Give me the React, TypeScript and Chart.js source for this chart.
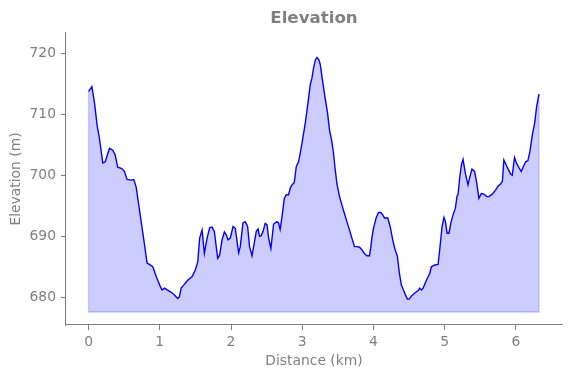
import React, { useEffect, useRef } from "react";
import { Chart, registerables } from "chart.js";

Chart.register(...registerables);

const distanceKm = [
  0.0, 0.047, 0.084, 0.122, 0.15, 0.2, 0.234, 0.294, 0.34, 0.374, 0.41, 0.467, 0.505, 0.54, 0.6, 0.635,
  0.668, 0.715, 0.776, 0.822, 0.855, 0.902, 0.95, 1.01, 1.033, 1.065, 1.15, 1.196, 1.252, 1.276, 1.3,
  1.336, 1.392, 1.454, 1.5, 1.533, 1.56, 1.594, 1.626, 1.664, 1.7, 1.734, 1.766, 1.813, 1.84, 1.874,
  1.907, 1.935, 1.958, 1.99, 2.028, 2.06, 2.107, 2.13, 2.168, 2.2, 2.233, 2.26, 2.295, 2.327, 2.355,
  2.38, 2.4, 2.425, 2.45, 2.48, 2.505, 2.528, 2.56, 2.598, 2.645, 2.668, 2.69, 2.716, 2.748, 2.776,
  2.808, 2.832, 2.856, 2.888, 2.916, 2.948, 2.972, 3.004, 3.042, 3.08, 3.112, 3.136, 3.158, 3.182,
  3.206, 3.234, 3.253, 3.29, 3.322, 3.355, 3.383, 3.416, 3.439, 3.463, 3.487, 3.524, 3.557, 3.59,
  3.627, 3.664, 3.697, 3.733, 3.766, 3.804, 3.837, 3.87, 3.907, 3.944, 3.963, 3.977, 4.0, 4.037,
  4.07, 4.103, 4.13, 4.155, 4.2, 4.234, 4.27, 4.304, 4.336, 4.364, 4.392, 4.416, 4.449, 4.477, 4.5,
  4.533, 4.58, 4.627, 4.65, 4.673, 4.697, 4.743, 4.79, 4.813, 4.86, 4.907, 4.93, 4.963, 4.99, 5.01,
  5.033, 5.06, 5.085, 5.117, 5.15, 5.173, 5.187, 5.21, 5.234, 5.257, 5.29, 5.327, 5.355, 5.383, 5.42,
  5.45, 5.48, 5.514, 5.55, 5.59, 5.62, 5.668, 5.716, 5.748, 5.786, 5.81, 5.83, 5.87, 5.9, 5.925,
  5.948, 5.98, 6.007, 6.04, 6.075, 6.1, 6.136, 6.168, 6.196, 6.23, 6.262, 6.29, 6.323,
];

const elevationM = [
  713.7, 714.5, 711.8, 708.0, 706.3, 702.0, 702.2, 704.4, 704.1, 703.3, 701.3, 701.1, 700.6, 699.3, 699.2, 699.3,
  698.1, 694.3, 689.4, 685.6, 685.4, 685.0, 683.4, 681.7, 681.2, 681.5, 680.9, 680.5, 679.8, 680.1, 681.5,
  682.0, 682.8, 683.4, 684.5, 685.8, 689.7, 691.0, 687.2, 689.7, 691.4, 691.5, 690.8, 686.4, 686.9, 689.4,
  690.7, 690.2, 689.4, 689.7, 691.6, 691.3, 687.3, 688.3, 692.2, 692.4, 691.6, 688.3, 686.8, 688.9, 690.8,
  691.2, 690.0, 690.1, 690.8, 692.1, 691.9, 689.7, 688.0, 692.0, 692.4, 692.2, 691.1, 693.2, 696.2, 696.8,
  696.8, 697.9, 698.4, 698.8, 701.4, 702.2, 703.6, 705.8, 708.5, 711.8, 714.8, 715.9, 717.5, 718.8,
  719.3, 718.9, 718.1, 715.1, 712.6, 710.2, 707.4, 705.5, 703.6, 700.9, 698.6, 696.5, 695.1, 693.8,
  692.4, 691.0, 689.7, 688.3, 688.3, 688.2, 687.8, 687.2, 686.8, 686.8, 688.3, 689.7, 691.3, 693.0,
  693.9, 693.9, 693.5, 693.0, 693.0, 691.6, 689.4, 687.8, 686.7, 683.9, 682.0, 681.3, 680.4, 679.7, 679.7,
  680.2, 680.7, 681.1, 681.5, 681.2, 681.5, 682.8, 683.9, 685.0, 685.3, 685.4, 687.8, 691.6, 693.1, 692.4,
  690.5, 690.5, 692.1, 693.5, 694.6, 696.6, 696.8, 699.5, 701.7, 702.6, 700.3, 698.4, 699.8, 701.0, 700.6,
  698.7, 696.2, 697.0, 696.9, 696.5, 696.5, 696.9, 697.6, 698.2, 698.6, 699.0, 702.5, 701.5, 700.8, 700.2,
  700.0, 702.9, 702.0, 701.3, 700.6, 701.3, 702.2, 702.4, 703.9, 706.6, 708.5, 711.2, 713.3,
];

const xTicks = [0, 1, 2, 3, 4, 5, 6];
const yTicks = [680, 690, 700, 710, 720];
const fillBase = 677.6;
const xMin = -0.3165;
const xMax = 6.6465;
const yMin = 675.46;
const yMax = 723.3;

export default function App() {
  const ref = useRef<HTMLCanvasElement>(null);

  useEffect(() => {
    document.body.style.margin = "0";
    const gray = "#808080";
    const font = { family: "DejaVu Sans", size: 13.89 };
    const pts = distanceKm.map((x, i) => ({ x, y: elevationM[i] }));
    const n = distanceKm.length - 1;
    const outline = [
      { x: distanceKm[0], y: elevationM[0] },
      { x: distanceKm[0], y: fillBase },
      { x: distanceKm[n], y: fillBase },
      { x: distanceKm[n], y: elevationM[n] },
    ];
    const chart = new Chart(ref.current!, {
      type: "line",
      data: {
        datasets: [
          {
            data: pts,
            borderColor: "blue",
            borderWidth: 1.4,
            pointRadius: 0,
            tension: 0,
            fill: { value: fillBase },
            backgroundColor: "rgba(0,0,255,0.2)",
            order: 1,
          },
          {
            data: outline,
            borderColor: "rgba(0,0,255,0.2)",
            borderWidth: 1.4,
            pointRadius: 0,
            tension: 0,
            fill: false,
            order: 2,
          },
        ],
      },
      options: {
        animation: false,
        responsive: false,
        maintainAspectRatio: false,
        layout: { padding: { left: 0, right: 9, top: 0, bottom: 0 } },
        plugins: {
          legend: { display: false },
          tooltip: { enabled: false },
          title: {
            display: true,
            text: "Elevation",
            color: gray,
            fullSize: false,
            font: { family: "DejaVu Sans", size: 16.67, weight: "bold" },
            padding: { top: 9, bottom: 4 },
          },
        },
        scales: {
          x: {
            type: "linear",
            min: xMin,
            max: xMax,
            afterBuildTicks: (s: any) => {
              s.ticks = xTicks.map((v) => ({ value: v }));
            },
            afterFit: (s: any) => {
              s.height = 53;
            },
            grid: { drawOnChartArea: false, drawTicks: true, tickLength: 5, color: gray, tickWidth: 1.1 },
            border: { display: true, color: gray, width: 1.1 },
            ticks: { color: gray, font, padding: 4, maxRotation: 0, autoSkip: false },
            title: {
              display: true,
              text: "Distance (km)",
              color: gray,
              font,
              padding: { top: 0, bottom: 8.2 },
            },
          },
          y: {
            type: "linear",
            min: yMin,
            max: yMax,
            afterBuildTicks: (s: any) => {
              s.ticks = yTicks.map((v) => ({ value: v }));
            },
            afterFit: (s: any) => {
              s.width = 66;
            },
            grid: { drawOnChartArea: false, drawTicks: true, tickLength: 5, color: gray, tickWidth: 1.1 },
            border: { display: true, color: gray, width: 1.1 },
            ticks: { color: gray, font, padding: 5, autoSkip: false },
            title: {
              display: true,
              text: "Elevation (m)",
              color: gray,
              font,
              padding: { top: 8.2, bottom: 0 },
            },
          },
        },
      },
    } as any);
    return () => chart.destroy();
  }, []);

  return (
    <div style={{ position: "absolute", left: 0, top: 0, width: 571, height: 378 }}>
      <canvas ref={ref} width={571} height={378} style={{ width: 571, height: 378, display: "block" }} />
    </div>
  );
}
